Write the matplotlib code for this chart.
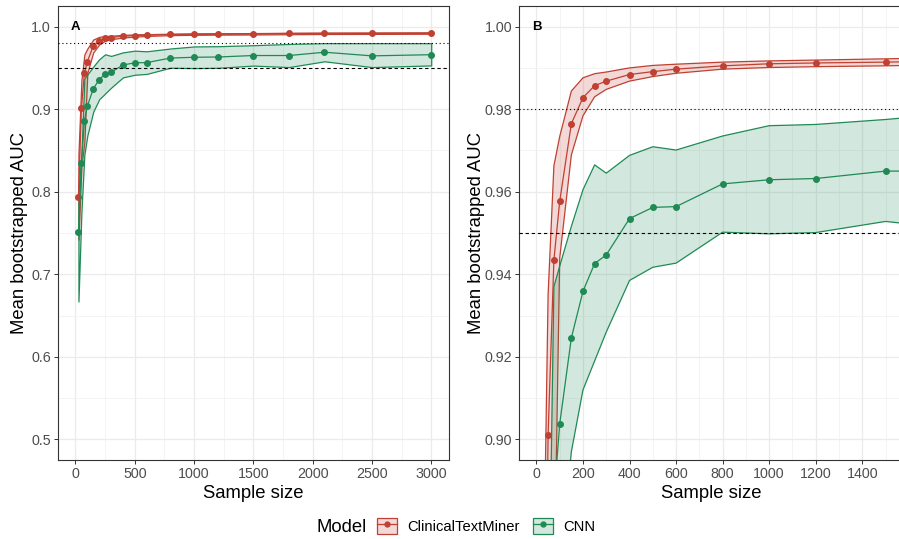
import matplotlib.pyplot as plt
from matplotlib.patches import Patch
from matplotlib.lines import Line2D
from matplotlib.legend_handler import HandlerTuple
from matplotlib.colors import to_rgba
from matplotlib.ticker import MultipleLocator, FormatStrFormatter

plt.rcParams['font.family'] = ['Liberation Sans', 'DejaVu Sans']

# sample sizes used for the learning curves
sample_size = [25, 50, 75, 100, 150, 200, 250, 300, 400, 500, 600,
               800, 1000, 1200, 1500, 1800, 2100, 2500, 3000]

# ClinicalTextMiner: mean AUC and band
ctm_mean = [0.794, 0.901, 0.9435, 0.9577, 0.9765, 0.9828, 0.9857, 0.9868, 0.9884, 0.9891, 0.9897,
            0.9905, 0.9910, 0.9912, 0.9914, 0.9917, 0.9919, 0.9920, 0.9922]
ctm_upper = [0.845, 0.935, 0.9663, 0.9734, 0.9844, 0.9876, 0.9886, 0.9890, 0.9900, 0.9906, 0.9909,
             0.9914, 0.9917, 0.9919, 0.9922, 0.9925, 0.9927, 0.9928, 0.9930]
ctm_lower = [0.742, 0.830, 0.860, 0.944, 0.9689, 0.9784, 0.9830, 0.9848, 0.9868, 0.9879, 0.9887,
             0.9897, 0.9901, 0.9903, 0.9905, 0.9908, 0.9911, 0.9912, 0.9914]

# CNN: mean AUC and band
cnn_mean = [0.7517, 0.8352, 0.8855, 0.9038, 0.9246, 0.9359, 0.9426, 0.9447, 0.9535, 0.9562, 0.9564,
            0.9619, 0.9629, 0.9632, 0.9650, 0.9650, 0.9690, 0.9646, 0.9660]
cnn_upper = [0.800, 0.845, 0.937, 0.942, 0.9516, 0.9605, 0.9665, 0.9645, 0.9688, 0.9709, 0.9701,
             0.9735, 0.9760, 0.9763, 0.9775, 0.9790, 0.9800, 0.9800, 0.9800]
cnn_lower = [0.667, 0.775, 0.845, 0.868, 0.897, 0.912, 0.919, 0.926, 0.9385, 0.9417, 0.9427,
             0.9502, 0.9498, 0.9501, 0.9528, 0.9510, 0.9580, 0.9510, 0.9530]

RED = '#C04032'
GREEN = '#208A55'
W, H = 899, 539

fig = plt.figure(figsize=(W / 100, H / 100), dpi=100)


def px_axes(l, t, r, b):
    return fig.add_axes([l / W, 1 - b / H, (r - l) / W, (b - t) / H])


def draw_panel(ax, label, xlim, ylim, xmaj, xmin, ymaj, ymin, yfmt, ypad):
    for mean, lo, hi, col in [(ctm_mean, ctm_lower, ctm_upper, RED),
                              (cnn_mean, cnn_lower, cnn_upper, GREEN)]:
        ax.fill_between(sample_size, lo, hi, facecolor=to_rgba(col, 0.2),
                        edgecolor=col, linewidth=0.9, zorder=2)
    for mean, col in [(ctm_mean, RED), (cnn_mean, GREEN)]:
        ax.plot(sample_size, mean, color=col, linewidth=0.9, marker='o',
                markersize=4, zorder=3)
    ax.axhline(0.98, color='black', linestyle=(0, (1, 2.5)), linewidth=0.8, zorder=4)
    ax.axhline(0.95, color='black', linestyle=(0, (3, 2.5)), linewidth=0.8, zorder=4)
    ax.text(0, 1.0, label, fontweight='bold', ha='center', va='center', fontsize=9.5, zorder=5)

    ax.set_xlim(*xlim)
    ax.set_ylim(*ylim)
    ax.xaxis.set_major_locator(MultipleLocator(xmaj))
    ax.xaxis.set_minor_locator(MultipleLocator(xmin))
    ax.yaxis.set_major_locator(MultipleLocator(ymaj))
    ax.yaxis.set_minor_locator(MultipleLocator(ymin))
    ax.yaxis.set_major_formatter(FormatStrFormatter(yfmt))
    ax.grid(which='major', color='#EBEBEB', linewidth=0.9, zorder=0)
    ax.grid(which='minor', color='#F2F2F2', linewidth=0.6, zorder=0)
    ax.set_axisbelow(True)
    ax.tick_params(which='major', direction='out', length=3, width=0.7, color='#333333',
                   labelcolor='#4D4D4D', labelsize=10.3, pad=2)
    ax.tick_params(which='minor', length=0)
    for s in ax.spines.values():
        s.set_color('#333333')
        s.set_linewidth(0.8)
    ax.set_xlabel('Sample size', fontsize=13.3, labelpad=3)
    ax.set_ylabel('Mean bootstrapped AUC', fontsize=13.3, labelpad=ypad)


ax_a = px_axes(57.7, 6, 449, 460)
ax_b = px_axes(519, 6, 903, 460)

draw_panel(ax_a, 'A', (-150, 3150), (0.475, 1.025), 500, 250, 0.1, 0.05, '%.1f', 2)
draw_panel(ax_b, 'B', (-75, 1575), (0.895, 1.005), 200, 100, 0.02, 0.01, '%.2f', -0.5)

# legend at the bottom
fig.text(317 / W, 1 - 527 / H, 'Model', fontsize=13.3, ha='left', va='center')
handles = []
for col in [RED, GREEN]:
    handles.append((Patch(facecolor=to_rgba(col, 0.2), edgecolor=col, linewidth=0.9),
                    Line2D([], [], color=col, linewidth=0.9, marker='o', markersize=3.5)))
fig.legend(handles, ['ClinicalTextMiner', 'CNN'], ncol=2, frameon=False,
           loc='center left', bbox_to_anchor=(377 / W, 1 - 526 / H),
           handler_map={tuple: HandlerTuple(ndivide=1)},
           fontsize=10.6, handlelength=1.36, handleheight=1.36,
           handletextpad=0.68, columnspacing=0.9, borderpad=0, borderaxespad=0)

fig.savefig('out.png', dpi=100)
